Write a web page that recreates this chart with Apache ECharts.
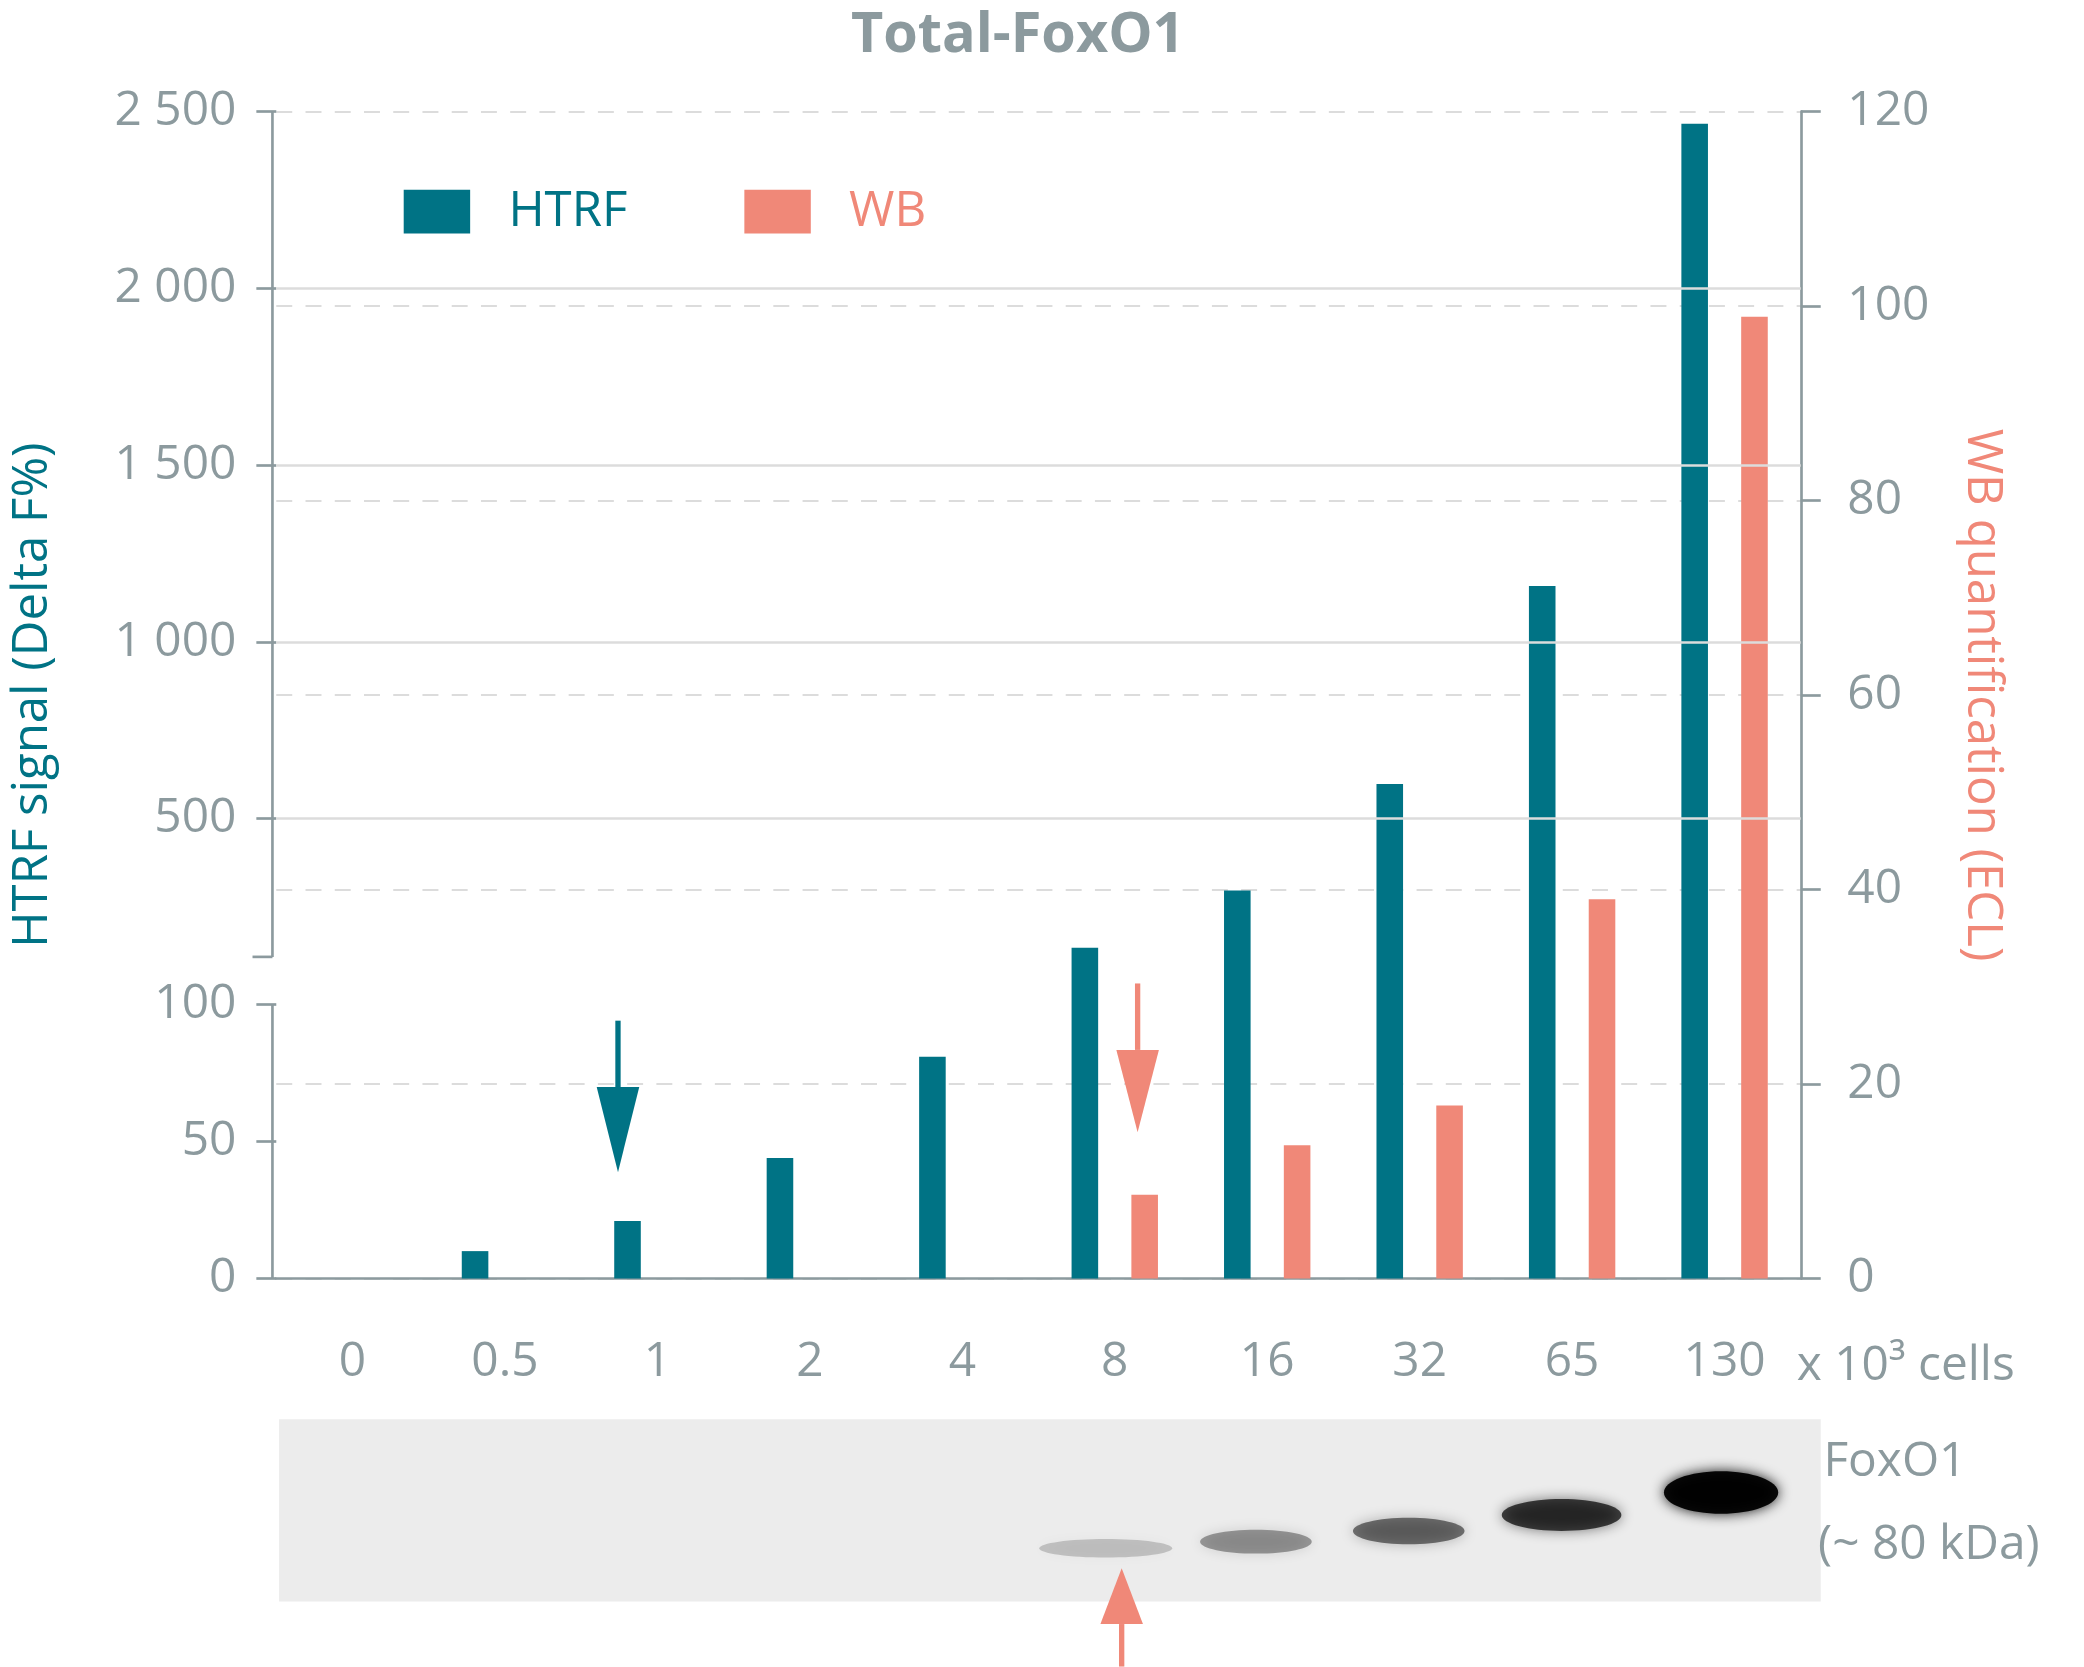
<!DOCTYPE html><html><head><meta charset="utf-8">
<script src="https://cdn.jsdelivr.net/npm/echarts@6/dist/echarts.min.js"></script>
<style>html,body{margin:0;background:#fff}#c{width:2084px;height:1667px}</style></head><body><div id="c"></div>
<script>
const categories=['0','0.5','1','2','4','8','16','32','65','130'];
const htrf=[0,10,21,44,81,135,297,598,1158,2466];
const wb=[0,0,0,0,0,8.6,13.7,17.8,39,98.9];
const leftTicks=[0,50,100,500,1000,1500,2000,2500];
const leftGridValues=[500,1000,1500,2000];
const rightTicks=[0,20,40,60,80,100,120];
// broken left axis mapped onto the 0-120 display scale
function mapL(v){return v<=110? v*0.28155 : 29.11+0.036355*v;}
const S=1.329, G='#8C9A9E', T='#007385', R='#F08878', F='"Open Sans", Lato, sans-serif';
const chart=echarts.init(document.getElementById('c'));
const grid={left:205*S,right:2084-1355*S,top:84*S,bottom:1667-962*S};
chart.setOption({
 animation:false,
 title:{text:'Total-FoxO1',left:762*S,top:2*S,textAlign:'center',textStyle:{fontFamily:F,fontSize:42*S,fontWeight:'bold',color:G}},
 legend:{left:300*S,top:137*S,itemWidth:50*S,itemHeight:33*S,itemGap:88*S,icon:'rect',textStyle:{fontFamily:F,fontSize:37*S,padding:[0,0,0,25*S]},data:[{name:'HTRF',textStyle:{color:T}},{name:'WB',textStyle:{color:R}}]},
 grid,
 xAxis:{type:'category',data:categories,axisLine:{lineStyle:{color:G,width:2*S}},axisTick:{alignWithLabel:true,length:14*S,lineStyle:{color:G,width:2*S}},axisLabel:{margin:45*S,fontFamily:F,fontSize:36*S,color:G}},
 yAxis:[
  {type:'value',min:0,max:120,position:'left',axisLine:{show:false},splitLine:{show:false},
   axisTick:{show:true,customValues:leftTicks.map(mapL),length:15*S,lineStyle:{color:G,width:2*S}},
   axisLabel:{customValues:leftTicks.map(mapL),margin:30*S,fontFamily:F,fontSize:36*S,color:G,
     formatter:v=>{const i=leftTicks.map(mapL).findIndex(x=>Math.abs(x-v)<1e-6);const n=leftTicks[i];return n>=1000?String(n).replace(/(\d)(\d{3})$/,'$1 $2'):String(n);}},
   name:'HTRF signal (Delta F%)',nameLocation:'middle',nameGap:165*S,nameTextStyle:{fontFamily:F,fontSize:37*S,color:T}},
  {type:'value',min:0,max:120,interval:20,position:'right',axisLine:{show:true,lineStyle:{color:G,width:2*S}},
   axisTick:{show:true,length:15*S,lineStyle:{color:G,width:2*S}},
   splitLine:{show:true,lineStyle:{color:'#dcdcdc',type:[12*S,10*S],width:1.5*S}},
   axisLabel:{margin:35*S,fontFamily:F,fontSize:36*S,color:G},
   name:'WB quantification (ECL)',nameLocation:'middle',nameGap:118*S,nameRotate:-90,nameTextStyle:{fontFamily:F,fontSize:37*S,color:R}}
 ],
 series:[
  {name:'HTRF',type:'bar',yAxisIndex:0,barWidth:20*S,barGap:'125%',itemStyle:{color:T},data:htrf.map(mapL),
   markLine:{silent:true,symbol:'none',label:{show:false},lineStyle:{color:'#dcdcdc',type:'solid',width:2*S},data:leftGridValues.map(v=>({yAxis:mapL(v)}))},z:3},
  {name:'WB',type:'bar',yAxisIndex:1,barWidth:20*S,itemStyle:{color:R},data:wb,z:3}
 ]
});
// left axis line with break
const yb=chart.convertToPixel({yAxisIndex:0},0), yt=chart.convertToPixel({yAxisIndex:0},120);
const y100=chart.convertToPixel({yAxisIndex:0},mapL(100)), yBrk=y100-36*S;
const xl=grid.left;
function arrow(x,y0,y1,hw,hh,c,up){
  const e=[{type:'line',shape:{x1:x,y1:y0,x2:x,y2:up?y1+hh:y1-hh},style:{stroke:c,lineWidth:4*S}}];
  e.push({type:'polygon',shape:{points:up?[[x,y1],[x-hw,y1+hh],[x+hw,y1+hh]]:[[x,y1],[x-hw,y1-hh],[x+hw,y1-hh]]},style:{fill:c}});
  return e;}
const bands=[[832,1165,50,7,0.18],[945,1160,42,9,0.35],[1060,1152,42,10,0.5],[1175,1140,45,12,0.7],[1295,1123,43,16,0.95]];
const gr=[
 {type:'line',shape:{x1:xl,y1:yb,x2:xl,y2:y100},style:{stroke:G,lineWidth:2*S}},
 {type:'line',shape:{x1:xl,y1:yBrk,x2:xl,y2:yt},style:{stroke:G,lineWidth:2*S}},
 {type:'line',shape:{x1:xl-15*S,y1:yBrk,x2:xl,y2:yBrk},style:{stroke:G,lineWidth:2*S}},
 {type:'text',x:1352*S,y:1010*S,style:{text:'x 10³ cells',font:`${36*S}px ${F}`,fill:G}},
 {type:'rect',shape:{x:210*S,y:1068*S,width:1160*S,height:137*S},style:{fill:'#ececec'}},
 ...bands.map(b=>({type:'ellipse',shape:{cx:b[0]*S,cy:b[1]*S,rx:b[2]*S,ry:b[3]*S},style:{fill:`rgba(0,0,0,${b[4]})`,shadowBlur:10*S,shadowColor:`rgba(0,0,0,${b[4]})`}})),
 {type:'text',x:1372*S,y:1082*S,style:{text:'FoxO1',font:`${36*S}px ${F}`,fill:G}},
 {type:'text',x:1368*S,y:1145*S,style:{text:'(~ 80 kDa)',font:`${36*S}px ${F}`,fill:G}},
 ...arrow(465*S,768*S,882*S,16*S,64*S,T,false),
 ...arrow(856*S,740*S,852*S,16*S,62*S,R,false),
 ...arrow(844*S,1254*S,1180*S,16*S,42*S,R,true)
];
chart.setOption({graphic:gr});
</script></body></html>
